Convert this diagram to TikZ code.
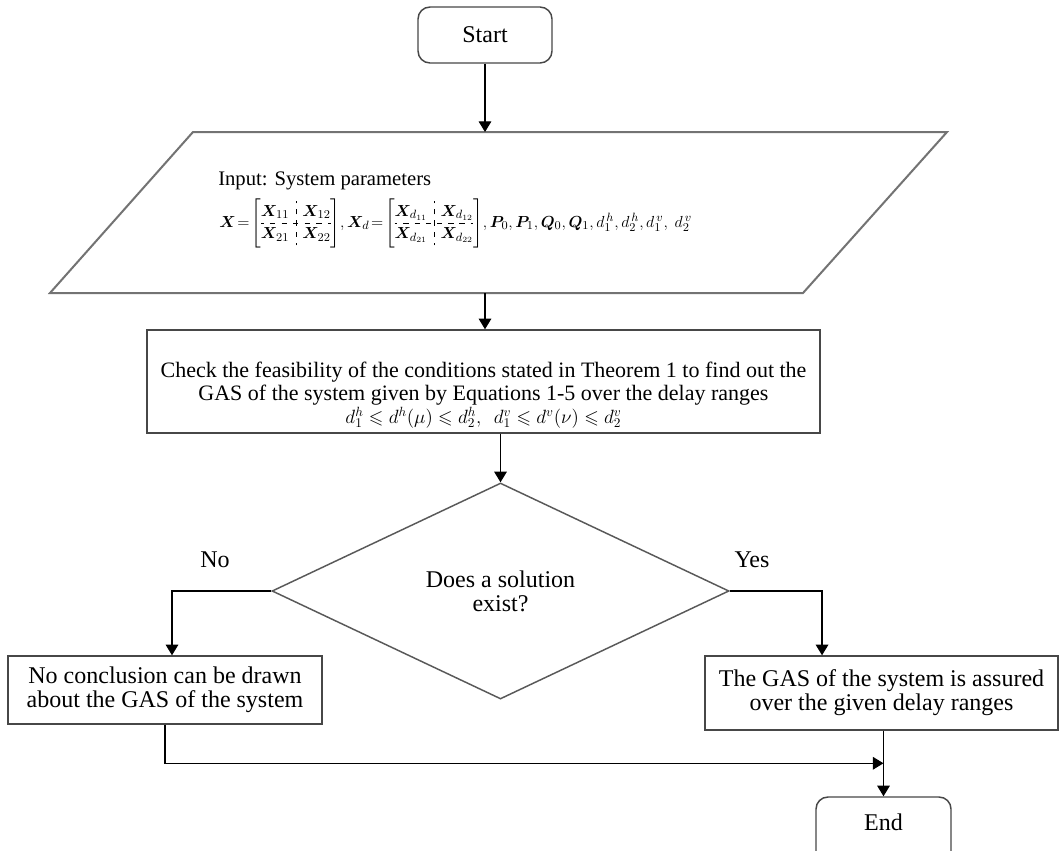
\documentclass[tikz,border=0pt]{standalone}
\usepackage{amsmath,amssymb,bm}
\usepackage{arydshln}
\usepackage{fontspec}
\setmainfont{Liberation Serif}
\usetikzlibrary{arrows.meta,shapes.geometric,calc}
\begin{document}
\begin{tikzpicture}[x=0.75pt,y=-0.75pt,
  box/.style={draw=black!72, line width=1.1pt, align=center, font=\fontsize{18}{18}\selectfont, inner sep=0pt},
  term/.style={box, rounded corners=9pt},
  arr/.style={-{Triangle[width=9.5pt,length=8pt]}, line width=0.9pt, black},
  lbl/.style={font=\fontsize{18}{18}\selectfont, inner sep=0pt}]
\path[use as bounding box, clip] (0,0) rectangle (1060,850);
\fill[white] (0,0) rectangle (1060,850);

% Start
\node[term, minimum width=100.5pt, minimum height=42pt] (start) at (485,35) {Start};

% Input parallelogram
\draw[draw=black!55, line width=1.5pt] (193,132) -- (947,132) -- (803,293) -- (50,293) -- cycle;
\coordinate (pin) at (485,132);
\coordinate (pout) at (485,293);
\node[anchor=west, inner sep=0pt, font=\fontsize{15.5}{15.5}\selectfont] (inlbl) at (218,181) {Input: System parameters};
\node[anchor=west, inner sep=0pt, font=\fontsize{12.3}{12.3}\selectfont] (inmath) at (219,223)
 {\renewcommand{\arraystretch}{1.35}$\bm{X}\!=\!\left[\begin{array}{@{}c:c@{}}\bm{X}_{11} & \bm{X}_{12}\\ \hdashline \bm{X}_{21} & \bm{X}_{22}\end{array}\right]\!,
   \bm{X}_d\!=\!\left[\begin{array}{@{}c:c@{}}\bm{X}_{d_{11}} & \bm{X}_{d_{12}}\\ \hdashline \bm{X}_{d_{21}} & \bm{X}_{d_{22}}\end{array}\right]\!,
   \bm{P}_0,\bm{P}_1,\bm{Q}_0,\bm{Q}_1,d_1^{\,h},d_2^{\,h},d_1^{\,v},\ d_2^{\,v}$};

% Check box
\node[box, minimum width=504.75pt, minimum height=77.25pt] (check) at (483.5,381.5) {};
\node[inner sep=0pt, align=center, font=\fontsize{16.5}{17}\selectfont] (checktxt) at (483.5,395) {Check the feasibility of the conditions stated in Theorem 1 to find out the\\GAS of the system given by Equations 1-5 over the delay ranges\\
 {\fontsize{14}{14}\selectfont$d_1^h\leqslant d^h(\mu)\leqslant d_2^h,\ \ d_1^v\leqslant d^v(\nu)\leqslant d_2^v$}};

% Decision
\node[diamond, draw=black!65, line width=1.1pt, minimum width=342.75pt, minimum height=162pt, inner sep=0pt, align=center, font=\fontsize{18}{18}\selectfont] (dec) at (500.5,591) {Does a solution\\exist?};
\node[lbl] (nolbl) at (215,560) {No};
\node[lbl] (yeslbl) at (752,560) {Yes};

% Outcomes
\node[box, minimum width=235.5pt, minimum height=51pt] (nobox) at (165,690) {No conclusion can be drawn\\about the GAS of the system};
\node[box, minimum width=264.75pt, minimum height=55.5pt] (yesbox) at (881.5,693) {The GAS of the system is assured\\over the given delay ranges};

% End
\node[term, minimum width=101.25pt, minimum height=51pt] (end) at (883.5,831) {};
\node[lbl] (endtxt) at (883.5,822) {End};

% Connectors
\draw[arr] (start.south) -- (pin);
\draw[arr] (pout) -- (pout |- check.north);
\draw[arr] (dec.north |- check.south) -- (dec.north);
\draw[arr] (dec.west) -| ([xshift=5.25pt]nobox.north);
\draw[arr] (dec.east) -| ([xshift=-44.6pt]yesbox.north);
\draw[arr] (end.north |- yesbox.south) -- (end.north);
\coordinate (merge) at ($(end.north)+(0,-33)$);
\draw[arr] (nobox.south) |- (merge);
\end{tikzpicture}
\end{document}
